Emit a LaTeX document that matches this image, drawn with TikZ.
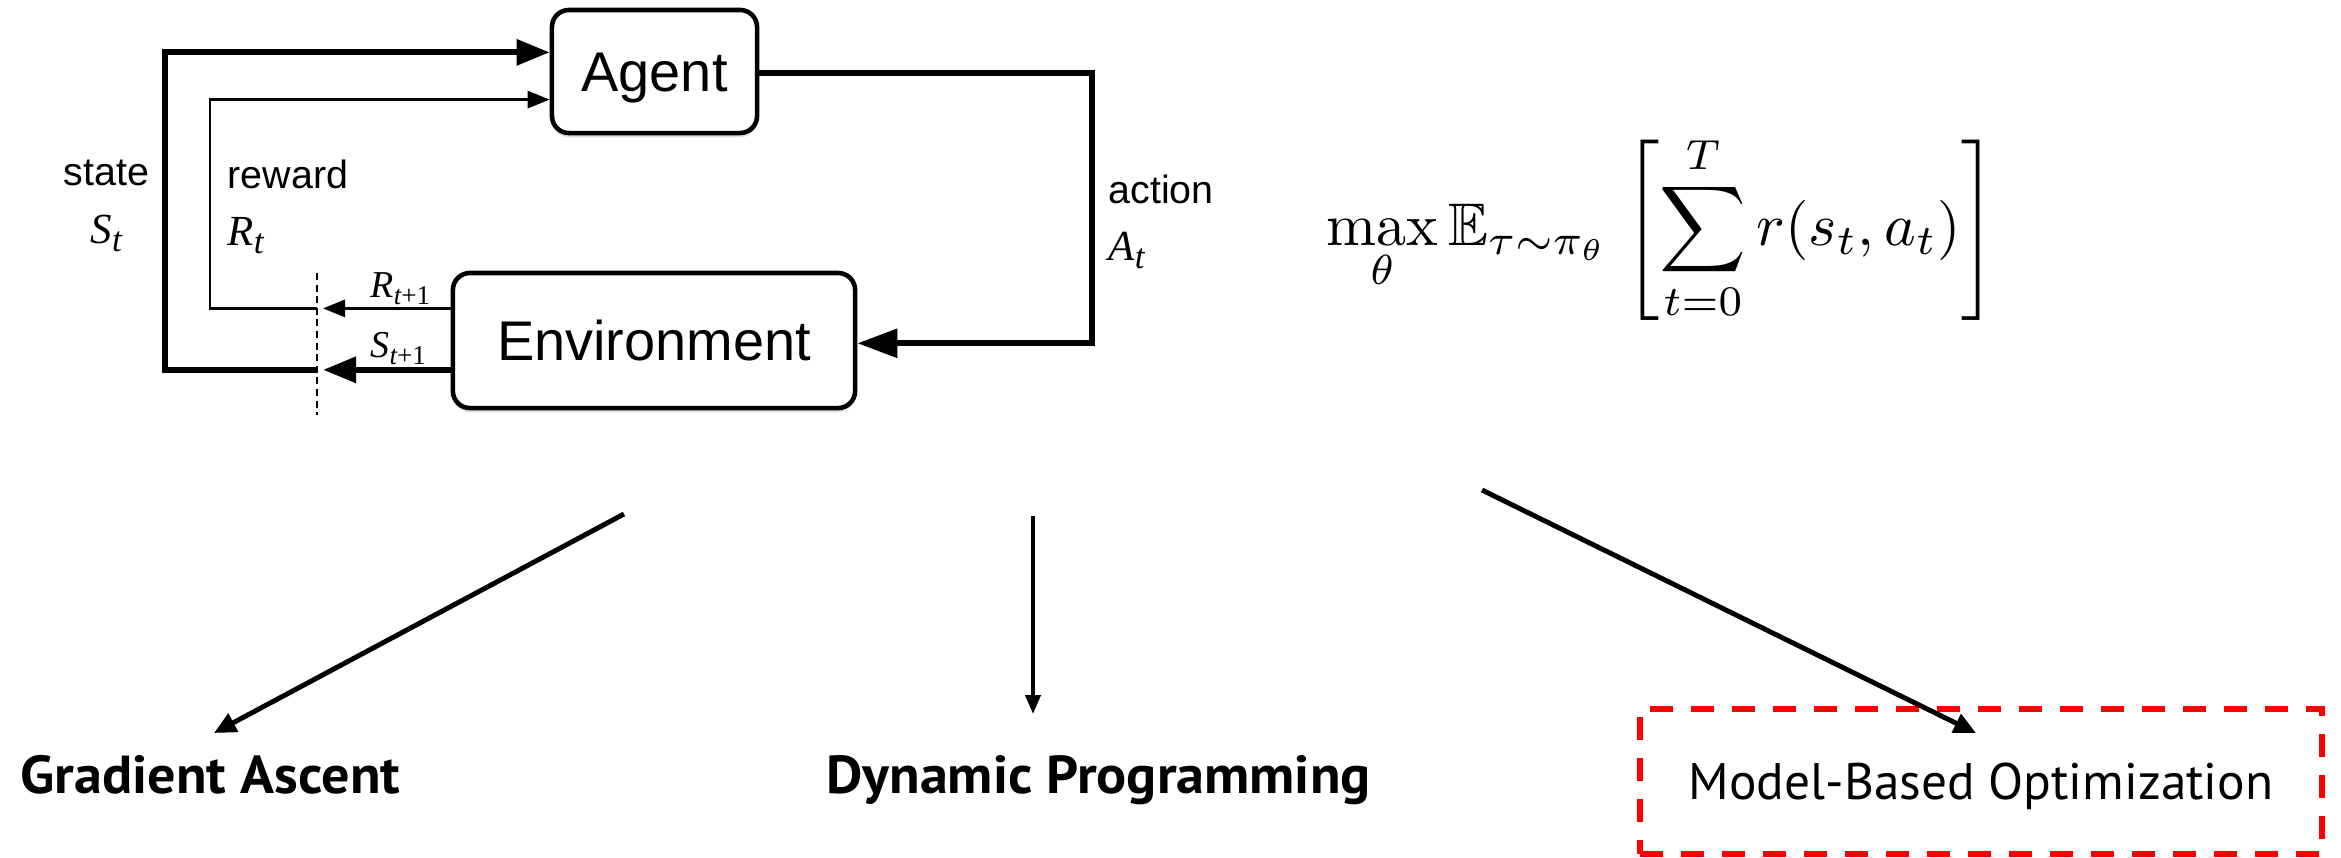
\documentclass[tikz,border=0pt]{standalone}
\usepackage{amsmath,amssymb}
\usepackage{fontspec}
\usetikzlibrary{arrows.meta,calc,shadows}

\newfontfamily\helv{Liberation Sans}
\newfontfamily\tms{Liberation Serif}
\newfontfamily\ptsans{PT Sans}

\begin{document}
\begin{tikzpicture}[x=0.01cm, y=-0.01cm,
  box/.style={draw, line width=1.3pt, rounded corners=0.17cm, fill=white,
    inner sep=0pt, drop shadow={opacity=0.25, shadow xshift=0pt, shadow yshift=-1.2pt}},
  thickline/.style={line width=1.75pt},
  thinline/.style={line width=0.85pt},
  bigtip/.style={-{Triangle[length=0.33cm,width=0.25cm]}},
  smalltip/.style={-{Triangle[length=0.22cm,width=0.17cm]}},
  lbl/.style={inner sep=0pt, anchor=base west, font=\helv\fontsize{11.2}{13}\selectfont},
  sym/.style={inner sep=0pt, anchor=base west},
  method/.style={inner sep=0pt, anchor=base west, font=\ptsans\bfseries\fontsize{15.2}{18}\selectfont},
  branch/.style={line width=1.4pt, -{Triangle[length=0.22cm,width=0.2cm]}},
  redbox/.style={draw=red, line width=1.7pt, dash pattern=on 0.23cm off 0.18cm,
    inner sep=0pt, font=\ptsans\fontsize{14.6}{17}\selectfont,
    text height=0.36cm, text depth=0pt}
]
\useasboundingbox (0,0) rectangle (2341,857);

% ---------- agent / environment loop ----------
\node[box, minimum width=2.05cm, minimum height=1.23cm,
      font=\helv\fontsize{15.9}{18}\selectfont, text height=0.39cm, text depth=0pt]
  (agent) at (654.5,71.5) {Agent};
\node[box, minimum width=4.02cm, minimum height=1.35cm,
      font=\helv\fontsize{15.9}{18}\selectfont, text height=0.40cm, text depth=0pt]
  (env) at (654,340.5) {Environment};

% columns and the time-step cut
\coordinate (sCol) at (165,0);
\coordinate (rCol) at (210,0);
\coordinate (aCol) at (1092,0);
\coordinate (cutX) at (317,0);
\coordinate (tipX) at (323,0);
\coordinate (cutTop) at (317,273);
\coordinate (cutBot) at (317,415);

% ports on the boxes
\coordinate (sIn)  at ($(agent.north west)!0.35!(agent.south west)$);
\coordinate (rIn)  at ($(agent.north west)!0.72!(agent.south west)$);
\coordinate (aOut) at ($(agent.north east)!0.51!(agent.south east)$);
\coordinate (rOut) at ($(env.north west)!0.27!(env.south west)$);
\coordinate (sOut) at ($(env.north west)!0.71!(env.south west)$);
\coordinate (aIn)  at ($(env.north east)!0.52!(env.south east)$);

\draw[dash pattern=on 2pt off 1.3pt, line width=0.5pt] (cutTop) -- (cutBot);

% next reward / next state leaving the environment
\draw[thinline, smalltip] (rOut) -- (rOut -| tipX);
\draw[thickline, bigtip] (sOut) -- (sOut -| tipX);

% fed back to the agent
\draw[thickline, bigtip] (sOut -| cutX) -| (sCol |- sIn) -- (sIn);
\draw[thinline, smalltip] (rOut -| cutX) -| (rCol |- rIn) -- (rIn);

% action
\draw[thickline, -{Triangle[length=0.4cm,width=0.28cm]}]
  (aOut) -| (aCol |- aIn) -- (aIn);

% labels
\node[lbl] (stateL) at (63,185) {state};
\node[sym] (stateS) at (90,243)
  {\tms\itshape\fontsize{12.2}{14}\selectfont S\raisebox{-2.3pt}{\fontsize{10}{12}\selectfont t}};
\node[lbl] (rewardL) at (227,188) {reward};
\node[sym] (rewardS) at (227,245)
  {\tms\itshape\fontsize{12.2}{14}\selectfont R\raisebox{-2.3pt}{\fontsize{10}{12}\selectfont t}};
\node[lbl] (actionL) at (1108,203) {action};
\node[sym] (actionS) at (1108,260)
  {\tms\itshape\fontsize{12.2}{14}\selectfont A\raisebox{-2.3pt}{\fontsize{10}{12}\selectfont t}};
\node[sym] (rNext) at (370,297)
  {\tms\fontsize{10.8}{13}\selectfont\itshape R\raisebox{-2pt}{\fontsize{7.7}{9}\selectfont\itshape t\upshape +1}};
\node[sym] (sNext) at (370,357)
  {\tms\fontsize{10.8}{13}\selectfont\itshape S\raisebox{-2pt}{\fontsize{7.7}{9}\selectfont\itshape t\upshape +1}};

% ---------- objective ----------
\node[inner sep=0pt, anchor=base west, scale=1.71, transform shape] (obj) at (1325,245)
  {$\displaystyle \max_{\theta}\mathbb{E}_{\tau\sim\pi_{\theta}}\hspace{0.1em}
    \left[\sum_{t=0}^{T} r(s_t,a_t)\right]$};

% ---------- solution methods ----------
\node[method] (ga) at (20,793) {\scalebox{1.05}[1]{Gradient Ascent}};
\node[method] (dp) at (826,793) {\scalebox{1.05}[1]{Dynamic Programming}};
\node[redbox, minimum width=6.82cm, minimum height=1.45cm] (mbo) at (1981,781.5)
  {Model-Based Optimization};

\coordinate (gaFrom) at (624,514);
\coordinate (gaTo)   at (214,733);
\coordinate (dpFrom) at (1033,516);
\coordinate (dpTo)   at (1033,714);
\coordinate (moFrom) at (1482,490);
\coordinate (moTo)   at (1976,733);

\draw[branch] (gaFrom) -- (gaTo);
\draw[line width=1.15pt, -{Triangle[length=0.19cm,width=0.15cm]}] (dpFrom) -- (dpTo);
\draw[branch] (moFrom) -- (moTo);
\end{tikzpicture}
\end{document}
